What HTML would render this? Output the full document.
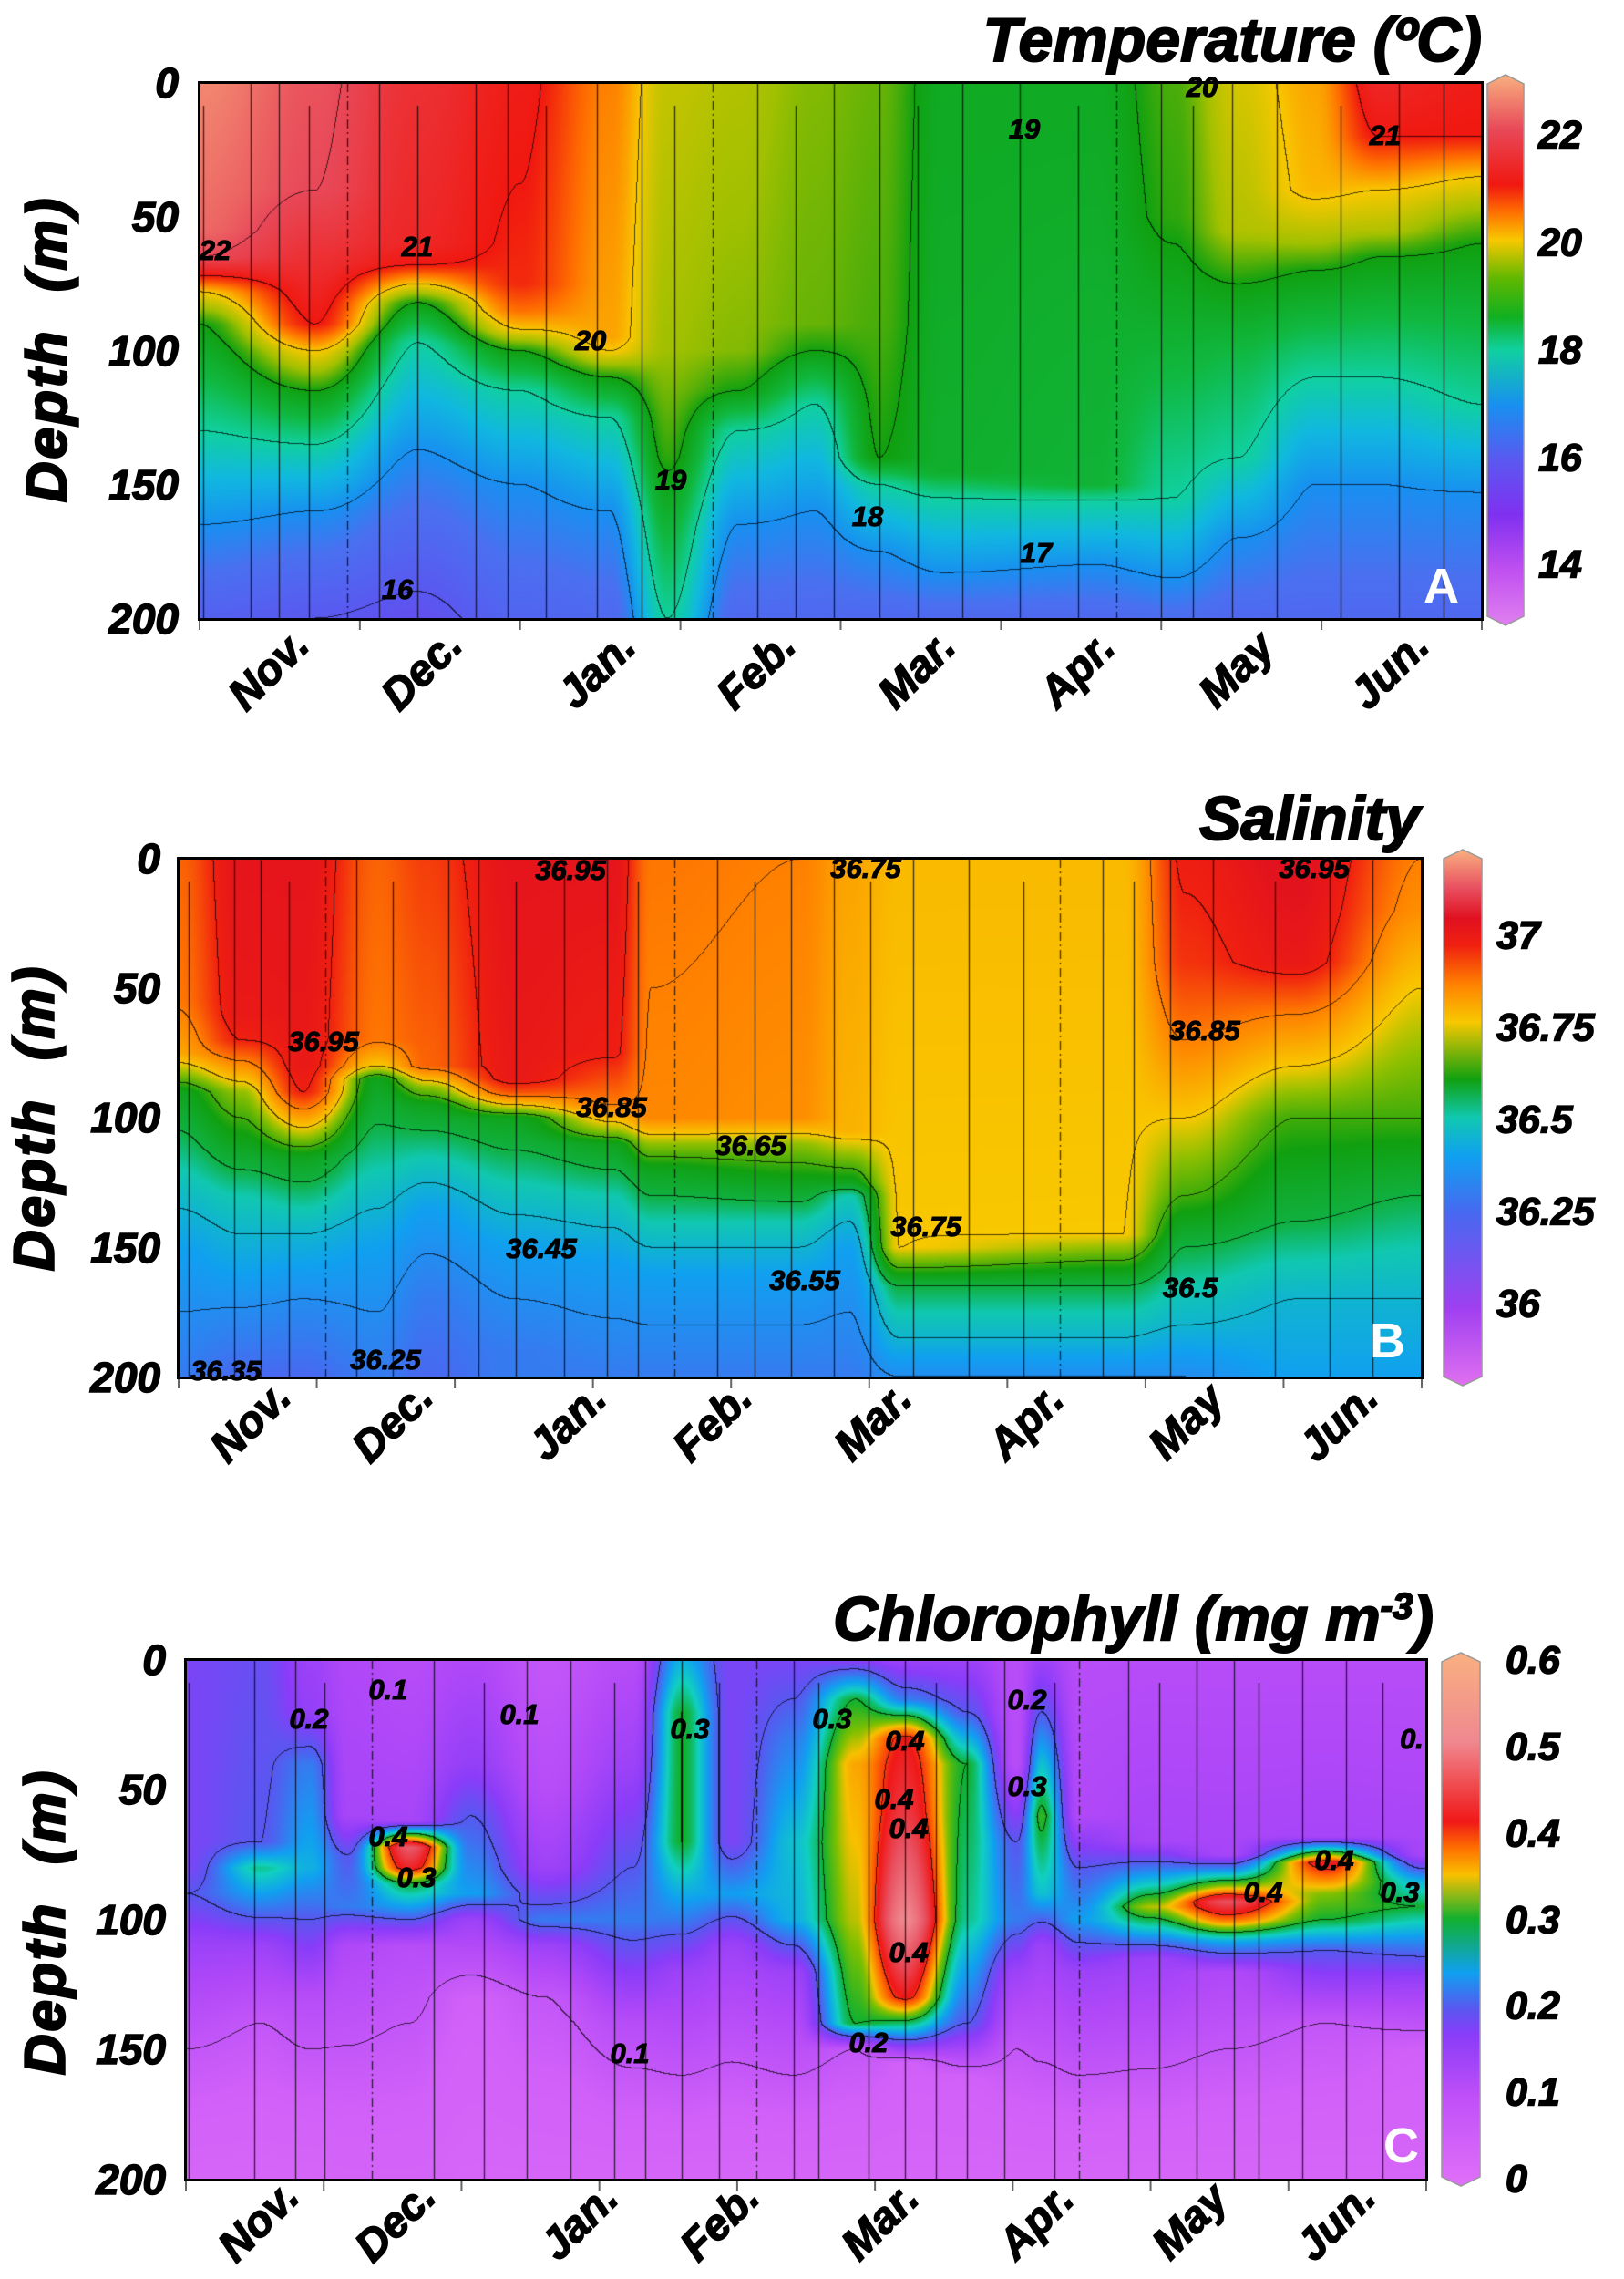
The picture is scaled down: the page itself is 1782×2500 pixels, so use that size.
<!DOCTYPE html>
<html><head><meta charset="utf-8">
<style>
html,body{margin:0;padding:0;background:#fff;}
body{width:1782px;height:2500px;position:relative;overflow:hidden;font-family:"Liberation Sans",sans-serif;}
.t{position:absolute;font-weight:bold;font-style:italic;color:#000;white-space:nowrap;-webkit-text-stroke:1.5px #000;}
.title{font-family:"Liberation Sans Narrow","Liberation Sans",sans-serif;font-size:68px;-webkit-text-stroke:2px #000;}
.yl{font-size:46px;text-align:right;width:130px;transform:translateY(-50%);}
.ct{font-size:43px;transform:translateY(-50%);}
.mo{font-size:48px;transform:translate(-50%,-50%) rotate(-45deg);}
.yt{font-size:62px;letter-spacing:3px;transform:translate(-50%,-50%) rotate(-90deg);-webkit-text-stroke:2.5px #000;}
.cl{font-size:31px;transform:translate(-50%,-50%);-webkit-text-stroke:1px #000;}
.pl{position:absolute;color:#fff;font-weight:bold;font-size:54px;}
canvas{position:absolute;}
.frame{position:absolute;border:3px solid #000;box-sizing:border-box;}
</style></head><body>
<canvas id="cA" style="left:219px;top:91px" width="1407" height="588"></canvas>
<canvas id="cB" style="left:196px;top:942px" width="1364" height="569"></canvas>
<canvas id="cC" style="left:204px;top:1821px" width="1361" height="570"></canvas>
<div class="frame" style="left:217px;top:89px;width:1411px;height:592px"></div>
<div class="frame" style="left:194px;top:940px;width:1368px;height:573px"></div>
<div class="frame" style="left:202px;top:1819px;width:1365px;height:574px"></div>
<svg id="bars" width="1782" height="2500" style="position:absolute;left:0;top:0"></svg>

<div class="t title" style="right:156px;top:5px">Temperature (ºC)</div>
<div class="t title" style="right:224px;top:859px">Salinity</div>
<div class="t title" style="right:209px;top:1737px">Chlorophyll (mg m<sup style="font-size:40px">-3</sup>)</div>

<div class="pl" style="left:1562px;top:612px">A</div>
<div class="pl" style="left:1503px;top:1440px">B</div>
<div class="pl" style="left:1518px;top:2323px">C</div>

<div id="labels"></div>

<script>
function hex(h){return [parseInt(h.substr(1,2),16),parseInt(h.substr(3,2),16),parseInt(h.substr(5,2),16)];}
function cmap(stops){stops=stops.map(s=>[s[0],hex(s[1])]);return function(v){
 if(v<=stops[0][0])return stops[0][1];
 for(let i=1;i<stops.length;i++){if(v<=stops[i][0]){const a=stops[i-1],b=stops[i];const t=(v-a[0])/(b[0]-a[0]);
 return [a[1][0]+(b[1][0]-a[1][0])*t,a[1][1]+(b[1][1]-a[1][1])*t,a[1][2]+(b[1][2]-a[1][2])*t];}}
 return stops[stops.length-1][1];};}
function prof(pts,d){if(d<=pts[0][0])return pts[0][1];for(let i=1;i<pts.length;i++){if(d<=pts[i][0]){const a=pts[i-1],b=pts[i];const t=(d-a[0])/(b[0]-a[0]);return a[1]+(b[1]-a[1])*t;}}return pts[pts.length-1][1];}
function field(kf,x,d){
 if(x<=kf[0].x)return prof(kf[0].p,d);
 for(let i=1;i<kf.length;i++){if(x<=kf[i].x){const a=kf[i-1],b=kf[i];let t=(x-a.x)/(b.x-a.x);t=t*t*(3-2*t);return prof(a.p,d)*(1-t)+prof(b.p,d)*t;}}
 return prof(kf[kf.length-1].p,d);}
function render(id,kf,cm,levels,stations){
 const c=document.getElementById(id),W=c.width,H=c.height,ctx=c.getContext('2d');
 const img=ctx.createImageData(W,H),F=new Float32Array(W*H);
 for(let y=0;y<H;y++){const d=y/(H-1)*200;for(let x=0;x<W;x++){F[y*W+x]=field(kf,x/(W-1),d);}}
 const lv=v=>{let k=0;for(const L of levels)if(v>=L)k++;return k;};
 for(let y=0;y<H;y++)for(let x=0;x<W;x++){const i=y*W+x,v=F[i];let col=cm(v);
  let line=false;const k=lv(v);
  if(x<W-1&&lv(F[i+1])!=k)line=true;if(y<H-1&&lv(F[i+W])!=k)line=true;
  const o=i*4;if(line){img.data[o]=col[0]*0.3;img.data[o+1]=col[1]*0.3;img.data[o+2]=col[2]*0.3;}
  else{img.data[o]=col[0];img.data[o+1]=col[1];img.data[o+2]=col[2];}img.data[o+3]=255;}
 ctx.putImageData(img,0,0);
 ctx.strokeStyle='rgba(0,0,0,0.75)';ctx.lineWidth=1.3;
 stations.forEach((s,j)=>{const x=Math.round(s*W)+0.5;ctx.beginPath();if(j%9==4)ctx.setLineDash([10,4,2,4]);else ctx.setLineDash([]);ctx.moveTo(x,j%3==0?25:0);ctx.lineTo(x,H);ctx.stroke();});
}
const stA=[0.003,0.04,0.062,0.085,0.115,0.14,0.17,0.215,0.24,0.27,0.31,0.345,0.37,0.40,0.435,0.465,0.495,0.53,0.56,0.595,0.64,0.685,0.715,0.75,0.775,0.805,0.84,0.89,0.935,0.97];

const cmT=cmap([[13,'#e080f0'],[14,'#c050f0'],[15,'#8030f0'],[16,'#5a58f0'],[16.6,'#4a70f0'],[17,'#1890f0'],[17.5,'#10b8e0'],[18,'#10d0a0'],[18.5,'#10b840'],[19,'#10a010'],[19.5,'#a0c000'],[20,'#f8c800'],[20.5,'#ff7000'],[21,'#f01810'],[22,'#e84858'],[23,'#f8b080']]);
const kA=[
{x:0,p:[[0,22.6],[55,22.3],[65,22],[72,21],[78,20],[90,19],[130,18],[165,17],[200,16.2]]},
{x:0.09,p:[[0,22.1],[40,22],[60,21.6],[90,21],[100,20],[115,19],[135,18],[160,17],[200,16]]},
{x:0.17,p:[[0,21.5],[60,21.3],[68,21],[75,20],[82,19],[97,18],[137,17],[190,16],[200,15.8]]},
{x:0.25,p:[[0,21.1],[75,20.9],[85,20.5],[92,20],[100,19],[115,18],[150,17],[200,16.3]]},
{x:0.32,p:[[0,20.4],[95,20.2],[100,20],[110,19],[125,18],[160,17],[200,16.4]]},
{x:0.365,p:[[0,19.7],[100,19.5],[140,19.1],[170,18.5],[200,18]]},
{x:0.42,p:[[0,19.6],[100,19.4],[115,19],[130,18],[165,17],[200,16.4]]},
{x:0.48,p:[[0,19.4],[90,19.3],[100,19],[120,18],[160,17],[200,16.4]]},
{x:0.53,p:[[0,19.3],[90,19.2],[140,19],[150,18],[175,17],[200,16.4]]},
{x:0.58,p:[[0,18.8],[145,18.7],[155,18],[183,17],[200,16.4]]},
{x:0.7,p:[[0,18.8],[150,18.6],[156,18],[180,17],[200,16.4]]},
{x:0.76,p:[[0,19.2],[50,19.1],[60,19],[100,18.6],[155,18],[185,17],[200,16.5]]},
{x:0.81,p:[[0,19.8],[55,19.6],[75,19],[100,18.5],[140,18],[170,17],[200,16.4]]},
{x:0.87,p:[[0,20.2],[40,20.1],[60,19.5],[70,19],[110,18],[150,17],[200,16.4]]},
{x:0.92,p:[[0,21.3],[20,21],[40,20],[55,19.6],[65,19],[110,18],[150,17],[200,16.4]]},
{x:1,p:[[0,21.1],[20,21],[35,20],[60,19],[120,18],[153,17],[200,16.4]]}];
render('cA',kA,cmT,[16,17,18,19,20,21,22],stA);

const cmS=cmap([[35.8,'#e070f0'],[36,'#a040f0'],[36.25,'#4868f0'],[36.4,'#10a0f0'],[36.5,'#10c8b0'],[36.55,'#10b040'],[36.62,'#10a010'],[36.7,'#90c000'],[36.75,'#f8c800'],[36.85,'#ff8000'],[36.95,'#f02010'],[37.02,'#e01020'],[37.1,'#e85060'],[37.2,'#f8b080']]);
const kB=[
{x:0,p:[[0,36.88],[55,36.86],[75,36.8],[90,36.6],[120,36.5],[150,36.4],[200,36.3]]},
{x:0.05,p:[[0,37.0],[60,36.98],[70,36.95],[90,36.7],[130,36.5],[160,36.4],[200,36.25]]},
{x:0.1,p:[[0,37.0],[80,36.98],[90,36.95],[100,36.8],[115,36.6],[145,36.45],[170,36.35],[200,36.25]]},
{x:0.16,p:[[0,36.88],[70,36.86],[80,36.75],[85,36.6],[120,36.5],[150,36.4],[200,36.3]]},
{x:0.2,p:[[0,36.92],[80,36.88],[88,36.7],[95,36.6],[115,36.5],[135,36.4],[170,36.3],[200,36.25]]},
{x:0.27,p:[[0,37.0],[85,36.98],[90,36.9],[95,36.75],[100,36.6],[125,36.5],[150,36.4],[190,36.3]]},
{x:0.35,p:[[0,37.0],[75,36.96],[95,36.85],[105,36.7],[110,36.6],[130,36.5],[155,36.4],[200,36.3]]},
{x:0.38,p:[[0,36.86],[100,36.84],[110,36.7],[120,36.6],[140,36.5],[160,36.4],[200,36.3]]},
{x:0.5,p:[[0,36.85],[100,36.83],[110,36.7],[125,36.6],[140,36.5],[160,36.4],[200,36.3]]},
{x:0.54,p:[[0,36.8],[105,36.78],[125,36.6],[130,36.5],[150,36.4],[200,36.3]]},
{x:0.58,p:[[0,36.77],[150,36.75],[158,36.65],[165,36.55],[185,36.45],[200,36.35]]},
{x:0.76,p:[[0,36.77],[145,36.75],[155,36.65],[165,36.55],[185,36.45],[200,36.35]]},
{x:0.81,p:[[0,36.96],[40,36.93],[70,36.85],[100,36.75],[130,36.65],[150,36.55],[180,36.45],[200,36.35]]},
{x:0.9,p:[[0,37.02],[40,36.98],[60,36.85],[80,36.75],[100,36.65],[140,36.55],[170,36.45],[200,36.4]]},
{x:1,p:[[0,36.85],[20,36.83],[50,36.75],[100,36.65],[130,36.55],[170,36.45],[200,36.4]]}];
const stB=stA.map(s=>s*0.985+0.005);
render('cB',kB,cmS,[36.25,36.35,36.45,36.55,36.65,36.75,36.85,36.95],stB);

const cmC=cmap([[0,'#e070f8'],[0.08,'#d060f8'],[0.13,'#b048f8'],[0.17,'#8a3cf8'],[0.2,'#5858f0'],[0.24,'#10a0f0'],[0.27,'#10d0c0'],[0.3,'#10b030'],[0.33,'#80c000'],[0.35,'#f8c000'],[0.38,'#ff7000'],[0.41,'#f01818'],[0.46,'#e85060'],[0.52,'#f08890'],[0.6,'#f8b080']]);
const kC=[
{x:0,p:[[0,0.18],[80,0.18],[90,0.2],[110,0.15],[150,0.1],[200,0.05]]},
{x:0.06,p:[[0,0.19],[70,0.2],[80,0.28],[95,0.22],[110,0.15],[140,0.1],[200,0.05]]},
{x:0.1,p:[[0,0.15],[20,0.16],[40,0.22],[80,0.25],[100,0.2],[130,0.12],[200,0.05]]},
{x:0.13,p:[[0,0.13],[60,0.14],[75,0.2],[95,0.22],[110,0.13],[200,0.06]]},
{x:0.18,p:[[0,0.12],[62,0.14],[72,0.47],[80,0.42],[86,0.3],[95,0.24],[110,0.12],[200,0.06]]},
{x:0.23,p:[[0,0.13],[40,0.16],[60,0.2],[90,0.24],[100,0.15],[130,0.08],[200,0.05]]},
{x:0.29,p:[[0,0.1],[50,0.12],[80,0.15],[100,0.22],[110,0.15],[130,0.1],[200,0.05]]},
{x:0.36,p:[[0,0.12],[40,0.15],[80,0.2],[100,0.22],[120,0.17],[140,0.12],[200,0.05]]},
{x:0.4,p:[[0,0.25],[20,0.3],[70,0.3],[100,0.22],[120,0.15],[200,0.05]]},
{x:0.44,p:[[0,0.18],[70,0.18],[90,0.24],[110,0.15],[200,0.05]]},
{x:0.49,p:[[0,0.18],[30,0.22],[70,0.26],[100,0.25],[120,0.15],[200,0.05]]},
{x:0.54,p:[[0,0.17],[15,0.3],[40,0.36],[100,0.34],[140,0.3],[150,0.1],[200,0.05]]},
{x:0.58,p:[[0,0.15],[15,0.22],[30,0.41],[60,0.44],[100,0.52],[130,0.41],[143,0.25],[155,0.08],[200,0.05]]},
{x:0.63,p:[[0,0.15],[20,0.2],[40,0.3],[100,0.28],[140,0.2],[160,0.08],[200,0.05]]},
{x:0.67,p:[[0,0.12],[40,0.12],[70,0.2],[100,0.22],[120,0.15],[150,0.1],[200,0.05]]},
{x:0.69,p:[[0,0.15],[20,0.2],[40,0.26],[60,0.31],[90,0.26],[110,0.15],[200,0.05]]},
{x:0.72,p:[[0,0.12],[60,0.13],[80,0.2],[100,0.24],[120,0.15],[200,0.05]]},
{x:0.78,p:[[0,0.12],[70,0.14],[88,0.28],[95,0.34],[105,0.25],[115,0.15],[200,0.05]]},
{x:0.84,p:[[0,0.12],[75,0.14],[88,0.35],[93,0.46],[100,0.38],[108,0.25],[120,0.13],[200,0.05]]},
{x:0.92,p:[[0,0.12],[68,0.14],[78,0.42],[90,0.33],[100,0.3],[112,0.2],[140,0.1],[200,0.05]]},
{x:1,p:[[0,0.12],[75,0.14],[85,0.25],[95,0.3],[110,0.22],[125,0.15],[150,0.08],[200,0.05]]}];
const stC=[0.002,0.055,0.088,0.112,0.15,0.2,0.24,0.275,0.31,0.345,0.37,0.4,0.43,0.46,0.49,0.51,0.55,0.58,0.605,0.63,0.66,0.7,0.72,0.76,0.785,0.815,0.845,0.865,0.9,0.935,0.965];
render('cC',kC,cmC,[0.1,0.2,0.3,0.4],stC);

const svg=document.getElementById('bars');let s='<defs>';
function grad(id,stops){let g='<linearGradient id="'+id+'" x1="0" y1="1" x2="0" y2="0">';stops.forEach(st=>g+='<stop offset="'+st[0]+'" stop-color="'+st[1]+'"/>');return g+'</linearGradient>';}
const n=(a,b)=>(v=>(v-a)/(b-a));
let fT=n(13,23);s+=grad('gT',[[0,'#e080f0'],[fT(14),'#c050f0'],[fT(15),'#8030f0'],[fT(16),'#5a58f0'],[fT(17),'#1890f0'],[fT(18),'#10d0a0'],[fT(18.6),'#10b020'],[fT(19.3),'#60b800'],[fT(20),'#f8c800'],[fT(20.5),'#ff7000'],[fT(21),'#f01810'],[fT(22),'#e84858'],[1,'#f8b080']]);
let fS=n(35.8,37.2);s+=grad('gS',[[0,'#e070f0'],[fS(36),'#a040f0'],[fS(36.25),'#4868f0'],[fS(36.4),'#10a0f0'],[fS(36.5),'#10c8b0'],[fS(36.6),'#10a010'],[fS(36.75),'#f8c800'],[fS(36.85),'#ff8000'],[fS(36.95),'#f02010'],[fS(37.02),'#e01020'],[fS(37.1),'#e85060'],[1,'#f8b080']]);
let fC=n(0,0.6);s+=grad('gC',[[0,'#e070f8'],[fC(0.1),'#c050f8'],[fC(0.17),'#8a3cf8'],[fC(0.2),'#5858f0'],[fC(0.24),'#10a0f0'],[fC(0.3),'#10b030'],[fC(0.35),'#f8c000'],[fC(0.38),'#ff7000'],[fC(0.41),'#f01818'],[fC(0.5),'#f08890'],[1,'#f8b080']]);
s+='</defs>';
function bar(x,w,y0,y1,g){const m=x+w/2;return '<path d="M'+x+' '+(y0+8)+' L'+m+' '+(y0-2)+' L'+(x+w)+' '+(y0+8)+' L'+(x+w)+' '+(y1-8)+' L'+m+' '+(y1+2)+' L'+x+' '+(y1-8)+'Z" fill="url(#'+g+')" stroke="#999" stroke-width="1.5"/>';}
s+=bar(1632,40,84,684,'gT');s+=bar(1584,42,934,1518,'gS');s+=bar(1582,42,1815,2396,'gC');
function xt(L,R,y,n){let r='';for(let i=0;i<=n;i++){const x=L+(R-L)*i/n;r+='<line x1="'+x+'" y1="'+y+'" x2="'+x+'" y2="'+(y+10)+'" stroke="#666" stroke-width="2"/>';}return r;}
s+=xt(219,1626,681,8);s+=xt(196,1560,1513,9);s+=xt(204,1565,2393,9);
svg.innerHTML=s;

let h='';
function T(cls,x,y,txt,extra){h+='<div class="t '+cls+'" style="left:'+x+'px;top:'+y+'px;'+(extra||'')+'">'+txt+'</div>';}
[[0,91],[50,238],[100,385],[150,532],[200,679]].forEach(a=>T('yl',66,a[1],a[0]));
[[0,942],[50,1084],[100,1226],[150,1369],[200,1511]].forEach(a=>T('yl',46,a[1],a[0]));
[[0,1821],[50,1963],[100,2106],[150,2248],[200,2391]].forEach(a=>T('yl',52,a[1],a[0]));
[[22,149],[20,267],[18,385],[16,503],[14,620]].forEach(a=>T('ct',1688,a[1],a[0]));
[[37,1027],['36.75',1128],['36.5',1229],['36.25',1330],[36,1431]].forEach(a=>T('ct',1642,a[1],a[0]));
[['0.6',1822],['0.5',1917],['0.4',2012],['0.3',2107],['0.2',2201],['0.1',2296],['0',2391]].forEach(a=>T('ct',1652,a[1],a[0]));
const M=['Nov.','Dec.','Jan.','Feb.','Mar.','Apr.','May','Jun.'];
[295,463,655,830,1006,1182,1357,1525].forEach((x,i)=>T('mo',x,735,M[i]));
[275,431,623,782,958,1126,1302,1469].forEach((x,i)=>T('mo',x,1560,M[i]));
[284,434,636,790,966,1137,1306,1466].forEach((x,i)=>T('mo',x,2437,M[i]));
T('yt',52,383,'Depth&nbsp;&nbsp;(m)');T('yt',38,1226,'Depth&nbsp;&nbsp;(m)');T('yt',50,2108,'Depth&nbsp;&nbsp;(m)');
[['22',236,275],['21',458,271],['20',648,374],['19',736,527],['18',952,567],['17',1137,607],['16',436,647],['19',1124,142],['20',1319,96],['21',1520,149]].forEach(a=>T('cl',a[1],a[2],a[0]));
[['36.95',626,955],['36.75',950,953],['36.95',1442,953],['36.95',355,1143],['36.85',1322,1131],['36.85',671,1215],['36.65',824,1257],['36.75',1016,1346],['36.45',594,1370],['36.55',883,1405],['36.5',1306,1413],['36.35',248,1504],['36.25',423,1492]].forEach(a=>T('cl',a[1],a[2],a[0]));
[['0.1',426,1854],['0.2',339,1886],['0.1',570,1881],['0.3',757,1897],['0.3',913,1886],['0.4',993,1910],['0.2',1127,1865],['0.3',1127,1960],['0.4',981,1974],['0.4',997,2006],['0.4',426,2015],['0.3',457,2060],['0.4',997,2142],['0.2',953,2241],['0.1',691,2253],['0.4',1386,2076],['0.4',1464,2041],['0.3',1536,2076],['0.',1549,1908]].forEach(a=>T('cl',a[1],a[2],a[0]));
document.getElementById('labels').innerHTML=h;
</script>
</body></html>
